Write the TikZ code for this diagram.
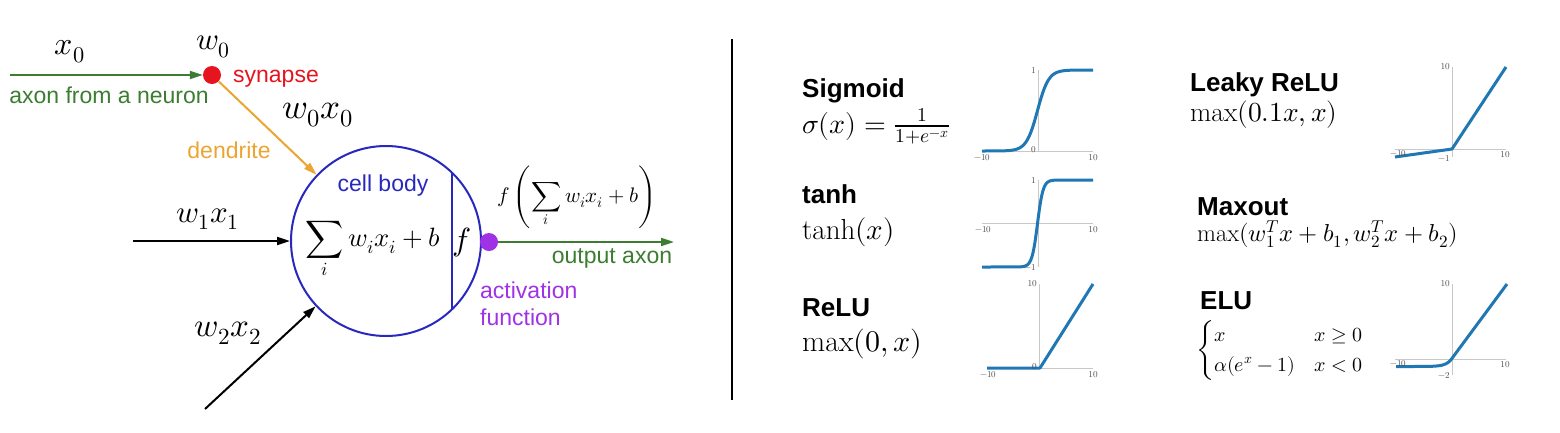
\documentclass[tikz,border=0pt]{standalone}
\usepackage{amsmath}
\usepackage{fontspec}
\usepackage{unicode-math}
\setmathfont{Latin Modern Math}
\newfontfamily\lab{Liberation Sans}
\usetikzlibrary{arrows.meta}
\definecolor{axg}{RGB}{60,125,50}
\definecolor{syn}{RGB}{230,20,30}
\definecolor{den}{RGB}{235,165,50}
\definecolor{cb}{RGB}{40,40,190}
\definecolor{act}{RGB}{160,50,230}
\definecolor{pl}{RGB}{31,119,180}
\definecolor{spine}{RGB}{200,200,200}
\begin{document}
\begin{tikzpicture}[x=1pt,y=-1pt,
 lbl/.style={font=\lab\fontsize{23}{27}\selectfont, inner sep=0},
 mth/.style={font=\fontsize{31}{37}\selectfont, inner sep=0},
 ttl/.style={font=\lab\bfseries\fontsize{26}{30}\selectfont, anchor=base west, inner sep=0},
 frm/.style={anchor=base west, inner sep=0},
 arr/.style={line width=2pt, -{Triangle[length=13pt,width=8pt]}},
 spn/.style={draw=spine, line width=1pt},
 crv/.style={draw=pl, line width=3pt, line join=round},
 tcklbl/.style={font=\fontsize{9}{10}\selectfont, text=black!70, inner sep=0},
 pdot/.style={circle, inner sep=0, minimum size=18pt}
]
\useasboundingbox (0,0) rectangle (1560,432);
\fill[white] (0,0) rectangle (1560,432);
% ---------- neuron ----------
\node[mth, font=\fontsize{32}{38}\selectfont] (x0) at (70,52) {$x_0$};
\node[mth] (w0) at (213,47) {$w_0$};
\node[pdot, fill=syn] (syn) at (212,75) {};
\coordinate (in0) at (10,75);
\draw[arr, axg] (in0) -- (syn);
\node[lbl, text=syn] (synl) at (276,79) {synapse};
\node[lbl, text=axg] (axl) at (109,95) {axon from a neuron};
\node[mth, font=\fontsize{35}{42}\selectfont] (w0x0) at (318,115) {$w_0x_0$};
\node[lbl, text=den] (dl) at (229,150) {dendrite};
\node[circle, draw=cb, line width=2pt, minimum size=190pt, inner sep=0] (cell) at (386,241) {};
\draw[arr, den] (syn) -- (cell);
\draw[cb, line width=2pt] (452,172) -- (452,309);
\node[lbl, text=cb] (cbl) at (383,186) {cell body};
\node[font=\fontsize{26.5}{32}\selectfont, inner sep=0] (sum) at (373,250) {$\displaystyle\sum_i w_ix_i+b$};
\node[mth, font=\fontsize{32}{38}\selectfont] (f) at (462,242) {$f$};
\node[pdot, fill=act] (ad) at (489,242) {};
\coordinate (out) at (674,242);
\draw[arr, axg] (ad) -- (out);
\node[lbl, text=axg] (oal) at (612,258) {output axon};
\node[lbl, text=act, anchor=base west] (al1) at (480,298) {activation};
\node[lbl, text=act, anchor=base west] (al2) at (480,325) {function};
\node[font=\fontsize{21}{25}\selectfont, inner sep=0] (fout) at (577,197) {$f\left(\displaystyle\sum_i w_ix_i+b\right)$};
\node[mth] (w1x1) at (208,219) {$w_1x_1$};
\coordinate (in1) at (133,241);
\draw[arr, black] (in1) -- (cell);
\node[mth, font=\fontsize{33}{40}\selectfont] (w2x2) at (228,333) {$w_2x_2$};
\coordinate (in2) at (205,409);
\draw[arr, black] (in2) -- (cell);
% ---------- divider ----------
\coordinate (dtop) at (732,39);
\coordinate (dbot) at (732,400);
\draw[line width=2.5pt] (dtop) -- (dbot);
% ---------- Sigmoid ----------
\node[ttl] (sigt) at (802,97) {Sigmoid};
\node[frm, font=\fontsize{28}{34}\selectfont] (sigf) at (802,133) {$\sigma(x)=\frac{1}{1+e^{-x}}$};
\draw[spn] (982,151) -- (1093,151);
\draw[spn] (1038,70) -- (1038,151);
\draw[crv] (982,151) -- plot[domain=-9:9, samples=61] ({1037.5+5.55*\x},{151-81*(1/(1+exp(-(\x))))}) -- (1093,70);
\node[tcklbl, anchor=east] at (1036,70) {1};
\node[tcklbl, anchor=east] at (1036,150) {0};
\node[tcklbl, anchor=north] at (982,154) {$-10$};
\node[tcklbl, anchor=north] at (1093,154) {10};
% ---------- tanh ----------
\node[ttl] (tant) at (802,203) {tanh};
\node[frm, font=\fontsize{29}{34}\selectfont] (tanf) at (802,239) {$\tanh(x)$};
\draw[spn] (982,223.5) -- (1093,223.5);
\draw[spn] (1038,180) -- (1038,267);
\draw[crv] (982,267) -- plot[domain=-4:4, samples=61] ({1037.5+5.55*\x},{223.5-43.5*((1-exp(-2*(\x)))/(1+exp(-2*(\x))))}) -- (1093,180);
\node[tcklbl, anchor=east] at (1036,180) {1};
\node[tcklbl, anchor=east] at (1036,267) {$-1$};
\node[tcklbl, anchor=north] at (983,226) {$-10$};
\node[tcklbl, anchor=north] at (1093,226) {10};
% ---------- ReLU ----------
\node[ttl] (relt) at (802,316) {ReLU};
\node[frm, font=\fontsize{30}{36}\selectfont] (relf) at (802,351) {$\max(0,x)$};
\draw[spn] (987,368) -- (1093,368);
\draw[spn] (1039,284) -- (1039,368);
\draw[crv] (987,368) -- (1040,368) -- (1093,284);
\node[tcklbl, anchor=east] at (1037,284) {10};
\node[tcklbl, anchor=east] at (1037,367) {0};
\node[tcklbl, anchor=north] at (988,371) {$-10$};
\node[tcklbl, anchor=north] at (1093,371) {10};
% ---------- Leaky ReLU ----------
\node[ttl] (lkt) at (1190,91) {Leaky ReLU};
\node[frm, font=\fontsize{27.5}{33}\selectfont] (lkf) at (1190,121) {$\max(0.1x,x)$};
\draw[spn] (1395,149) -- (1506,149);
\draw[spn] (1452,67) -- (1452,157);
\draw[crv] (1395,157) -- (1452,149) -- (1506,67);
\node[tcklbl, anchor=east] at (1450,67) {10};
\node[tcklbl, anchor=east] at (1450,158) {$-1$};
\node[tcklbl, anchor=north] at (1398,150) {$-10$};
\node[tcklbl, anchor=north] at (1505,151) {10};
% ---------- Maxout ----------
\node[ttl] (mxt) at (1197,215) {Maxout};
\node[frm, font=\fontsize{24.5}{29}\selectfont] (mxf) at (1197,241) {$\max(w_1^Tx+b_1,w_2^Tx+b_2)$};
% ---------- ELU ----------
\node[ttl] (elt) at (1200,309) {ELU};
\node[anchor=west, inner sep=0, font=\fontsize{20}{25}\selectfont] (elf) at (1196,350) {$\begin{cases}x & x\geq 0\\ \alpha(e^x-1) & x<0\end{cases}$};
\draw[spn] (1395,359) -- (1506,359);
\draw[spn] (1452,284) -- (1452,375);
\draw[crv] plot[domain=-10:0, samples=41] ({1451.5+5.55*\x},{359-7.5*(exp(\x)-1)}) -- (1507,284);
\node[tcklbl, anchor=east] at (1450,284) {10};
\node[tcklbl, anchor=east] at (1450,375) {$-2$};
\node[tcklbl, anchor=north] at (1398,360) {$-10$};
\node[tcklbl, anchor=north] at (1505,361) {10};
\end{tikzpicture}
\end{document}
